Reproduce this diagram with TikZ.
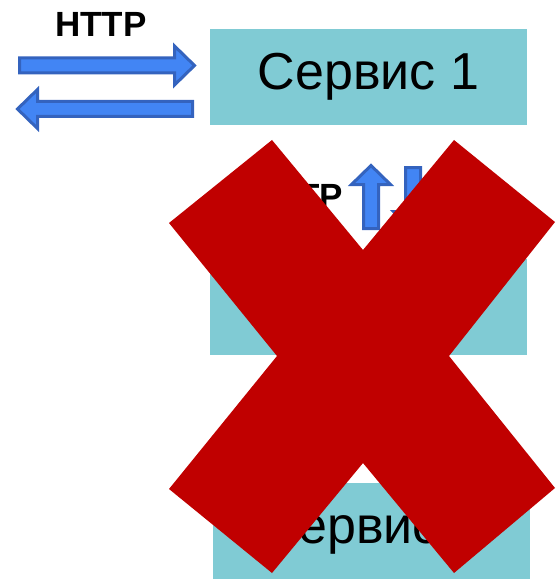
\documentclass[tikz,border=0pt]{standalone}
\usepackage{fontspec}
\setmainfont{Liberation Sans}
\usetikzlibrary{calc}

\definecolor{boxteal}{HTML}{80CBD4}
\definecolor{arrowblue}{HTML}{4285F4}
\definecolor{arrowedge}{HTML}{3463BE}
\definecolor{crossred}{HTML}{C00000}

\begin{document}
\begin{tikzpicture}[x=1pt, y=-1pt,
    service/.style={fill=boxteal, draw=none, minimum width=317pt, minimum height=96pt,
      inner sep=0pt, font=\fontsize{52}{60}\selectfont},
    label/.style={font=\bfseries\fontsize{35}{40}\selectfont, inner sep=0pt},
    arrowbody/.style={fill=arrowblue, draw=arrowedge, line width=3pt, line join=miter}]
  \useasboundingbox (0,0) rectangle (555,580);

  % boxes
  \node[service] (service1) at (368.5,77) {Сервис 1};
  \node[service] (service2) at (368.5,306.5) {Сервис 2};
  \node[service] (service3) at (371.5,530.5) {Сервис 3};

  % block arrows: start, angle, length, head half width, head length
  \def\drawArrow#1#2#3#4#5{
    \begin{scope}[shift={#1}, rotate=#2]
      \draw[arrowbody] (0,-7.5) -- (#3-#5,-7.5) -- (#3-#5,-#4) -- (#3,0)
        -- (#3-#5,#4) -- (#3-#5,7.5) -- (0,7.5) -- cycle;
    \end{scope}
  }

  \drawArrow{(19.5,65.5)}{0}{175}{19.5}{20}
  \drawArrow{(192.5,109)}{180}{175}{19.5}{20}
  \drawArrow{(371,228.5)}{90}{63}{19.5}{19}
  \drawArrow{(413,167.5)}{-90}{63}{19.5}{19}

  \node[label] (httptop) at (101,24) {HTTP};
  \node[label, anchor=east] (httpmid) at (343,196) {HTTP};

  % cross
  \fill[crossred] (169,223) -- (272,140) -- (363,250) -- (454,140) -- (555,222)
    -- (449,356) -- (555,488) -- (454,573) -- (363,463) -- (272,573)
    -- (169,489) -- (277,356) -- cycle;
\end{tikzpicture}
\end{document}
